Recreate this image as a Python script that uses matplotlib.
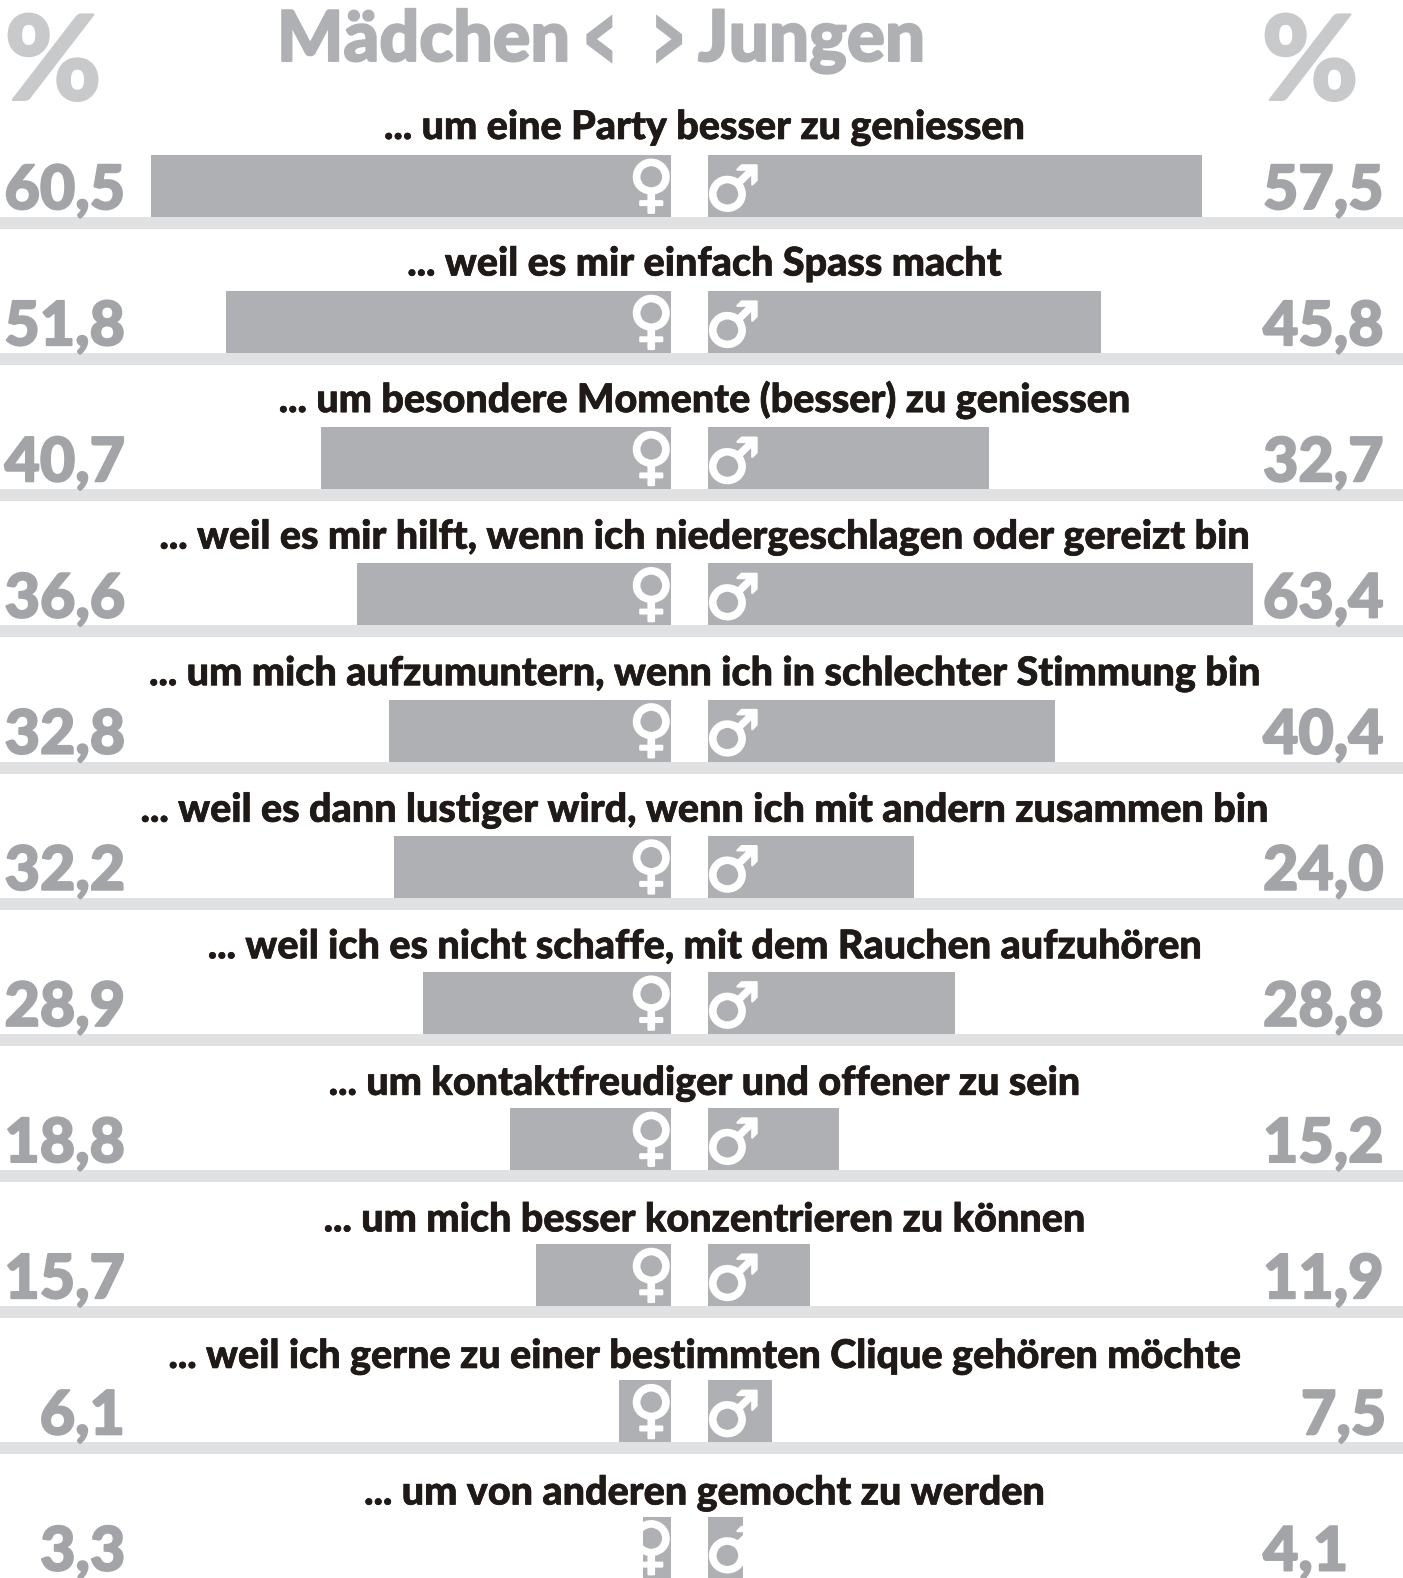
#!/usr/bin/env python3

import matplotlib
matplotlib.use("Agg")
import matplotlib.pyplot as plt
import matplotlib.patheffects as pe
import numpy as np

reasons = [
    "... um eine Party besser zu geniessen",
    "... weil es mir einfach Spass macht",
    "... um besondere Momente (besser) zu geniessen",
    "... weil es mir hilft, wenn ich niedergeschlagen oder gereizt bin",
    "... um mich aufzumuntern, wenn ich in schlechter Stimmung bin",
    "... weil es dann lustiger wird, wenn ich mit andern zusammen bin",
    "... weil ich es nicht schaffe, mit dem Rauchen aufzuhören",
    "... um kontaktfreudiger und offener zu sein",
    "... um mich besser konzentrieren zu können",
    "... weil ich gerne zu einer bestimmten Clique gehören möchte",
    "... um von anderen gemocht zu werden",
]
girls = [60.5, 51.8, 40.7, 36.6, 32.8, 32.2, 28.9, 18.8, 15.7, 6.1, 3.3]
boys = [57.5, 45.8, 32.7, 63.4, 40.4, 24.0, 28.8, 15.2, 11.9, 7.5, 4.1]

W, H = 1403, 1578
PX_PER_UNIT = 8.59
FONT = "Lato"
BAR = "#AFB0B3"
RULE = "#E0E1E3"
DARK = "#1F1A17"
VALUE = "#A3A4A7"
PCT = "#C8C9CB"

ROW_TOP = 155
ROW_STEP = 136.15
LABEL_STEP = 136.55
BAR_H = 62
GIRL_END = 671
BOY_START = 708


def px(v):
    return v * 0.72


def fat(color, lw):
    # the original face is heavier than anything installed
    return [pe.withStroke(linewidth=lw, foreground=color)]


fig = plt.figure(figsize=(W / 100, H / 100), dpi=100, facecolor="white")

# background axes in pixels, for rules and text
ax = fig.add_axes([0, 0, 1, 1])
ax.set_xlim(0, W)
ax.set_ylim(H, 0)
ax.axis("off")

# the two bar axes share the scale, in percent
ax_g = fig.add_axes([0, 0, GIRL_END / W, 1])
ax_g.set_xlim(GIRL_END / PX_PER_UNIT, 0)
ax_g.set_ylim(H, 0)
ax_g.axis("off")
ax_b = fig.add_axes([BOY_START / W, 0, (W - BOY_START) / W, 1])
ax_b.set_xlim(0, (W - BOY_START) / PX_PER_UNIT)
ax_b.set_ylim(H, 0)
ax_b.axis("off")

tops = ROW_TOP + ROW_STEP * np.arange(len(reasons))
ax_g.barh(tops + BAR_H / 2, girls, height=BAR_H, color=BAR, linewidth=0)
ax_b.barh(tops + BAR_H / 2, boys, height=BAR_H, color=BAR, linewidth=0)

for i, (top, reason, g, b) in enumerate(zip(tops, reasons, girls, boys)):
    ax.fill_between([0, W], top + BAR_H, top + BAR_H + 12, color=RULE, linewidth=0, zorder=0)
    ax.text(W / 2 + 3, ROW_TOP - 16 + LABEL_STEP * i, reason, ha="center", va="baseline", family=FONT,
            weight="black", fontsize=px(39.5), color=DARK, path_effects=fat(DARK, 0.5))
    ax.text(125, top + 54, f"{g:.1f}".replace(".", ","), ha="right", va="baseline", family=FONT,
            weight="black", fontsize=px(61), color=VALUE, path_effects=fat(VALUE, 1.4))
    # the 7,5 sits further in than the other right hand values
    bx = 1301 if i == 9 else 1263
    ax.text(bx, top + 54, f"{b:.1f}".replace(".", ","), ha="left", va="baseline", family=FONT,
            weight="black", fontsize=px(61), color=VALUE, path_effects=fat(VALUE, 1.4))
    ax_g.text(2.3, top + 33, "\u2640", ha="center", va="center", family="DejaVu Sans",
              weight="bold", fontsize=px(62), color="white", path_effects=fat("white", 1.6))
    ax_b.text(2.9, top + 38, "\u2642", ha="center", va="center", family="DejaVu Sans",
              weight="bold", fontsize=px(62), color="white", path_effects=fat("white", 1.6))

# header
ax.text(570, 61, "Mädchen", ha="right", va="baseline", family=FONT, weight="black",
        fontsize=px(70), color=BAR, path_effects=fat(BAR, 1.4))
ax.text(698, 61, "Jungen", ha="left", va="baseline", family=FONT, weight="black",
        fontsize=px(71), color=BAR, path_effects=fat(BAR, 1.4))
ax.text(600, 41, "\u2039", ha="center", va="center", family="DejaVu Sans", weight="bold",
        fontsize=px(108), color=BAR)
ax.text(668, 41, "\u203a", ha="center", va="center", family="DejaVu Sans", weight="bold",
        fontsize=px(108), color=BAR)
ax.text(53, 100, "%", ha="center", va="baseline", family=FONT, weight="black",
        fontsize=px(118), color=PCT, path_effects=fat(PCT, 1.4))
ax.text(1310, 100, "%", ha="center", va="baseline", family=FONT, weight="black",
        fontsize=px(118), color=PCT, path_effects=fat(PCT, 1.4))

fig.savefig("out.png", dpi=100, facecolor="white")
plt.close("all")
